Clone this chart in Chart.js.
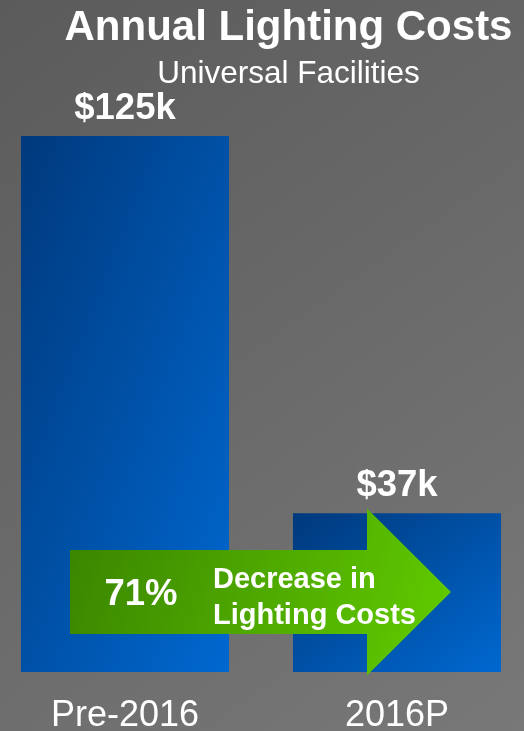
<!DOCTYPE html>
<html>
<head>
<meta charset="utf-8">
<title>Annual Lighting Costs</title>
<script src="https://cdn.jsdelivr.net/npm/chart.js@4.4.0/dist/chart.umd.min.js"></script>
<style>
  html, body { margin: 0; padding: 0; background: #686868; }
  #chart-wrap { width: 524px; height: 731px; position: relative; }
</style>
</head>
<body>
<div id="chart-wrap"><canvas id="lighting-costs"></canvas></div>
<script>
// data //
const periods = ['Pre-2016', '2016P'];
const costsK = [125, 37];
const decreaseLabel = '71%';
const decreaseText = ['Decrease in', 'Lighting Costs'];

const fontFamily = '"Liberation Sans", Arial, Helvetica, sans-serif';
Chart.defaults.font.family = fontFamily;
Chart.defaults.color = '#ffffff';

// blue bar fill, dark top-left to bright bottom-right
function barGradient(context) {
  const chart = context.chart;
  const { x, y } = chart.scales;
  if (!x || !y || !chart.chartArea) return '#0050a8';
  const i = context.dataIndex;
  const half = 104;
  const left = x.getPixelForValue(i) - half;
  const top = y.getPixelForValue(costsK[i]);
  const w = half * 2;
  const h = y.getPixelForValue(0) - top;
  // keep the top-right and bottom-left corners on the same colour
  const k = (2 * w * h) / (w * w + h * h);
  const g = chart.ctx.createLinearGradient(left, top, left + h * k, top + w * k);
  g.addColorStop(0, '#00397c');
  g.addColorStop(1, '#0068d0');
  return g;
}

// background + overlays //
const backdrop = {
  id: 'backdrop',
  beforeDraw(chart) {
    const { ctx, width, height } = chart;
    const g = ctx.createLinearGradient(0, 0, width, height);
    g.addColorStop(0, '#5b5b5b');
    g.addColorStop(1, '#787878');
    ctx.save();
    ctx.fillStyle = g;
    ctx.fillRect(0, 0, width, height);
    ctx.restore();
  }
};

const overlays = {
  id: 'overlays',
  afterDatasetsDraw(chart) {
    const { ctx, chartArea } = chart;
    const bars = chart.getDatasetMeta(0).data;
    ctx.save();

    // value labels above bars
    ctx.fillStyle = '#ffffff';
    ctx.textAlign = 'center';
    ctx.textBaseline = 'alphabetic';
    ctx.font = 'bold 36.5px ' + fontFamily;
    bars.forEach((bar, i) => {
      ctx.fillText('$' + costsK[i] + 'k', bar.x, bar.y - 17);
    });

    // green arrow from the first bar into the second
    const b1 = bars[0], b2 = bars[1];
    const tipY = chartArea.bottom - 80;
    const bodyLeft = b1.x - 55;
    const headBase = b2.x - 30;
    const tipX = b2.x + 54;
    const bodyHalf = 42;
    const headHalf = 83.5;
    const ag = ctx.createLinearGradient(bodyLeft, tipY - bodyHalf, tipX, tipY + headHalf);
    ag.addColorStop(0, '#3b8600');
    ag.addColorStop(1, '#62cd00');
    ctx.fillStyle = ag;
    ctx.beginPath();
    ctx.moveTo(bodyLeft, tipY - bodyHalf);
    ctx.lineTo(headBase, tipY - bodyHalf);
    ctx.lineTo(headBase, tipY - headHalf);
    ctx.lineTo(tipX, tipY);
    ctx.lineTo(headBase, tipY + headHalf);
    ctx.lineTo(headBase, tipY + bodyHalf);
    ctx.lineTo(bodyLeft, tipY + bodyHalf);
    ctx.closePath();
    ctx.fill();

    // arrow text
    ctx.fillStyle = '#ffffff';
    ctx.textAlign = 'center';
    ctx.font = 'bold 36.5px ' + fontFamily;
    ctx.fillText(decreaseLabel, b1.x + 16, tipY + 13);
    ctx.textAlign = 'left';
    ctx.font = 'bold 29px ' + fontFamily;
    ctx.fillText(decreaseText[0], b1.x + 88, tipY - 4);
    ctx.fillText(decreaseText[1], b1.x + 88, tipY + 32);

    ctx.restore();
  }
};

new Chart('lighting-costs', {
  type: 'bar',
  data: {
    datasets: [{
      label: 'Annual Lighting Costs ($k)',
      data: periods.map((p, i) => ({ x: i, y: costsK[i] })),
      backgroundColor: barGradient,
      borderWidth: 0,
      clip: false,
      categoryPercentage: 1,
      barPercentage: 0.765
    }]
  },
  options: {
    responsive: true,
    maintainAspectRatio: false,
    animation: false,
    layout: { padding: { left: 53, right: 0, top: 0, bottom: 0 } },
    plugins: {
      legend: { display: false },
      tooltip: { enabled: false },
      title: {
        display: true,
        text: 'Annual Lighting Costs',
        color: '#ffffff',
        font: { size: 42, weight: 'bold', lineHeight: 1.2 },
        padding: { top: 3, bottom: 0 }
      },
      subtitle: {
        display: true,
        text: 'Universal Facilities',
        color: '#ffffff',
        font: { size: 31.5, weight: 'normal', lineHeight: 1.2 },
        padding: { top: 2, bottom: 42.8 }
      }
    },
    scales: {
      x: {
        type: 'linear',
        offset: false,
        min: -0.2647,
        max: 1.4669,
        grid: { display: false, drawTicks: false },
        border: { display: false },
        afterBuildTicks: (axis) => { axis.ticks = periods.map((p, i) => ({ value: i })); },
        afterFit: (axis) => { axis.height = 59; },
        ticks: {
          callback: (value) => periods[value],
          color: '#ffffff',
          font: { size: 36, lineHeight: 0.9 },
          padding: 28,
          maxRotation: 0,
          autoSkip: false
        }
      },
      y: { display: false, min: 0, max: 125 }
    }
  },
  plugins: [backdrop, overlays]
});
</script>
</body>
</html>
